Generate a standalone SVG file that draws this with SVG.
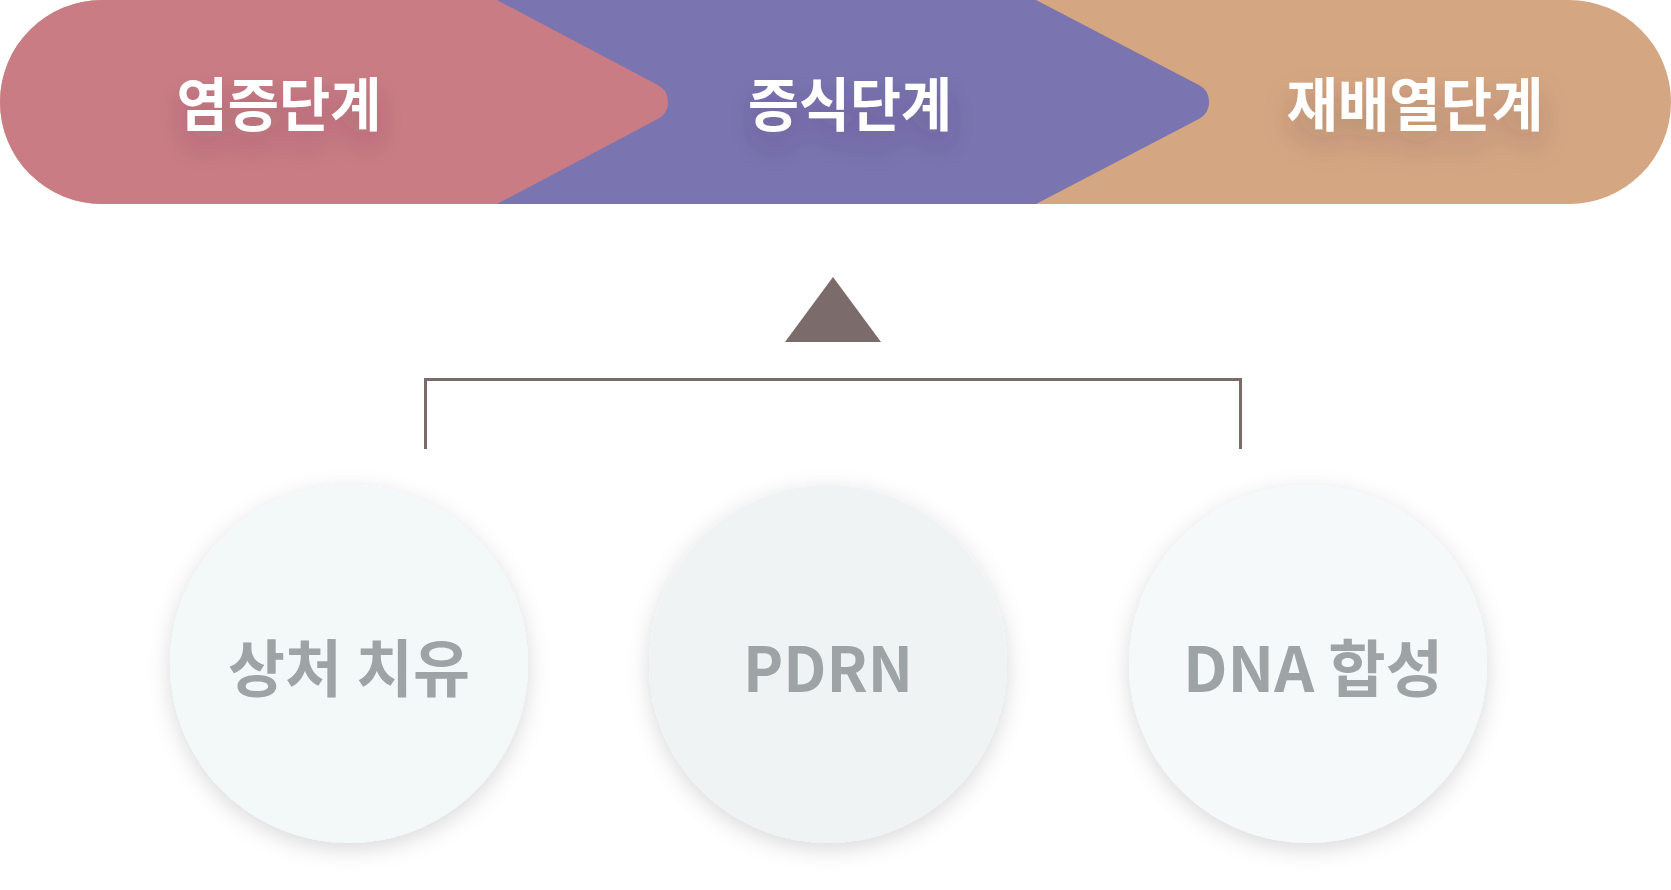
<svg xmlns="http://www.w3.org/2000/svg" width="1671" height="890" viewBox="0 0 1671 890">
  <style>
    .stage { font-family: "Noto Sans CJK KR", "Noto Sans", sans-serif; font-weight: 700; font-size: 58px; fill: #ffffff; text-anchor: middle; }
    .lbl { font-family: "Noto Sans CJK KR", "Noto Sans", sans-serif; font-weight: 700; font-size: 62px; fill: #9ea3a5; text-anchor: middle; }
    .conn { fill: none; stroke: #7b6b6b; stroke-width: 3; }
  </style>
  <defs>
    <filter id="tshadow" x="-30%" y="-60%" width="160%" height="260%">
      <feGaussianBlur in="SourceAlpha" stdDeviation="14" result="b"/>
      <feOffset in="b" dx="0" dy="16" result="o"/>
      <feFlood flood-color="#3a2a40" flood-opacity="0.22"/>
      <feComposite in2="o" operator="in" result="s"/>
      <feMerge><feMergeNode in="s"/><feMergeNode in="SourceGraphic"/></feMerge>
    </filter>
    <filter id="cshadow" x="-25%" y="-25%" width="150%" height="150%">
      <feDropShadow dx="0" dy="6" stdDeviation="11" flood-color="#000" flood-opacity="0.15"/>
    </filter>
  </defs>

  <g id="stage-regen">
    <rect x="0" y="0" width="1671" height="204" rx="102" ry="102" fill="#d5a682"/>
    <text class="stage" x="1415" y="126" textLength="257" lengthAdjust="spacingAndGlyphs" filter="url(#tshadow)">재배열단계</text>
  </g>
  <g id="stage-prolif">
    <path d="M400,0 L1036,0 L1198.8,85.1 A19,19 0 0 1 1198.8,118.9 L1036,204 L400,204 Z" fill="#7a74b0"/>
    <text class="stage" x="850" y="126" textLength="204" lengthAdjust="spacingAndGlyphs" filter="url(#tshadow)">증식단계</text>
  </g>
  <g id="stage-inflam">
    <path d="M102,0 L497,0 L657.8,85.1 A19,19 0 0 1 657.8,118.9 L497,204 L102,204 A102,102 0 0 1 102,0 Z" fill="#c97c84"/>
    <text class="stage" x="279" y="126" textLength="205" lengthAdjust="spacingAndGlyphs" filter="url(#tshadow)">염증단계</text>
  </g>

  <g id="connectors">
    <polygon points="833,277 785,342 881,342" fill="#7b6b6b"/>
    <path class="conn" d="M425.5,449 L425.5,379.5 L1240.5,379.5 L1240.5,449"/>
  </g>

  <g id="node-wound">
    <circle cx="349" cy="664" r="179" fill="#f3f8f8" filter="url(#cshadow)"/>
    <text class="lbl" x="349" y="692" textLength="242" lengthAdjust="spacingAndGlyphs">상처 치유</text>
  </g>
  <g id="node-pdrn">
    <circle cx="828" cy="664" r="179" fill="#eff3f4" filter="url(#cshadow)"/>
    <text class="lbl" x="828" y="692" textLength="170" lengthAdjust="spacingAndGlyphs">PDRN</text>
  </g>
  <g id="node-dna">
    <circle cx="1308" cy="664" r="179" fill="#f6f9fa" filter="url(#cshadow)"/>
    <text class="lbl" x="1313" y="692" textLength="260" lengthAdjust="spacingAndGlyphs">DNA 합성</text>
  </g>
</svg>
